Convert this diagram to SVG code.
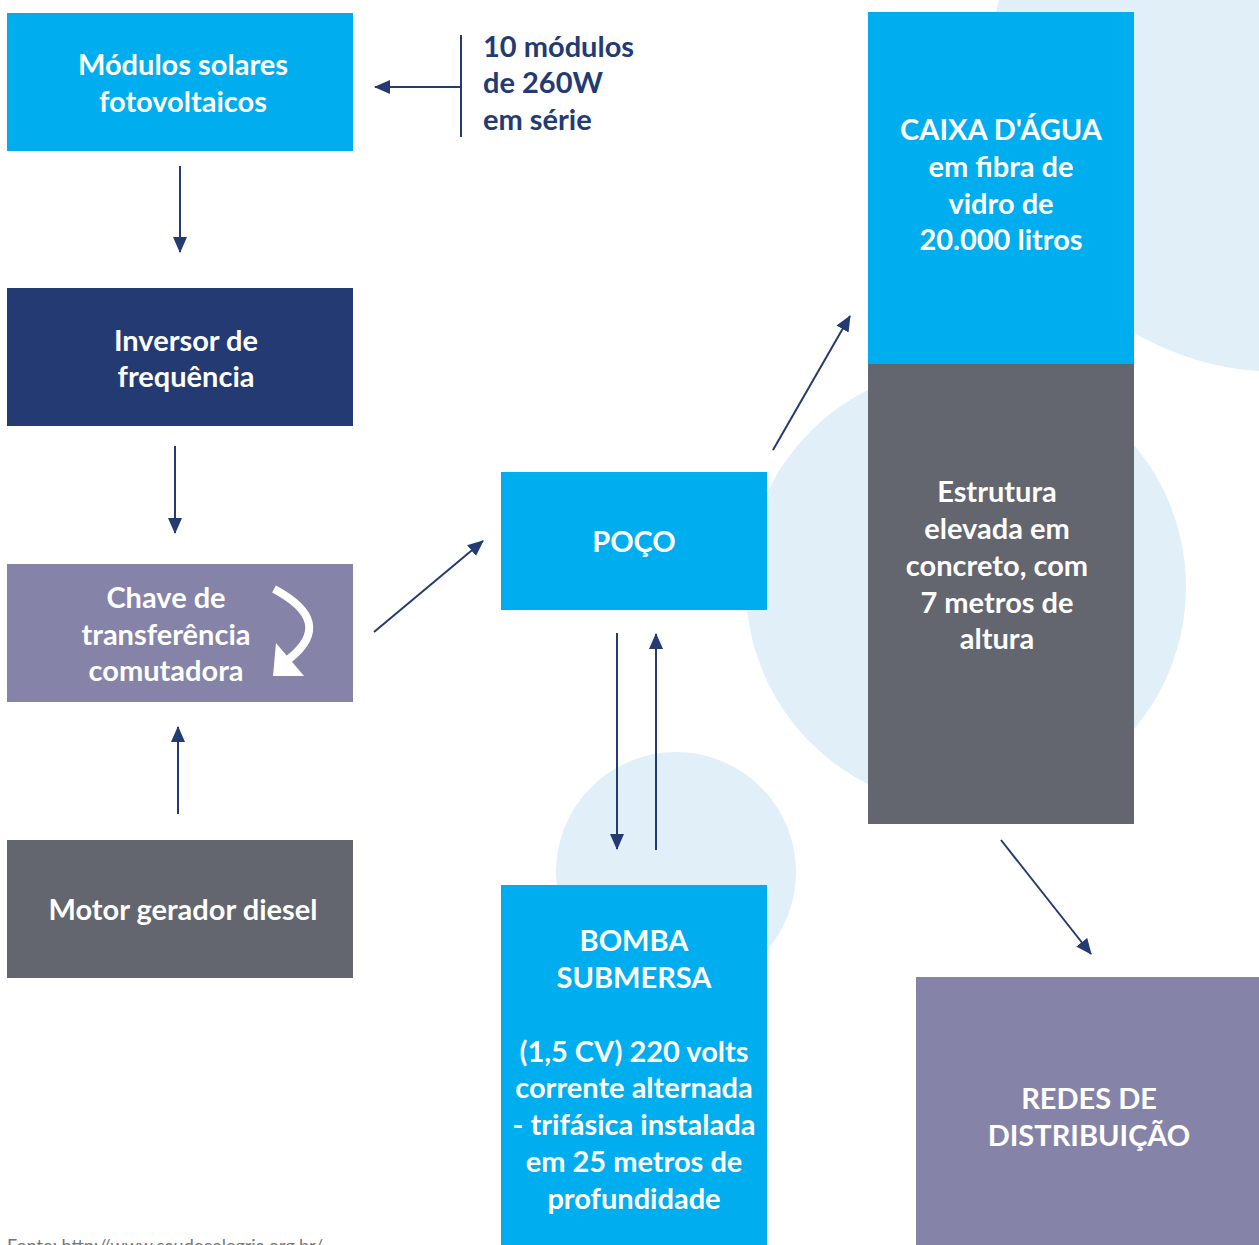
<svg xmlns="http://www.w3.org/2000/svg" width="1259" height="1245" viewBox="0 0 1259 1245">
<defs>
<style>
.bg{fill:#E1EFF9}
.cyan{fill:#00AEEF}
.navy{fill:#233A73}
.purple{fill:#8584A8}
.gray{fill:#63656F}
.t{font-family:Lato,"Liberation Sans",sans-serif;font-weight:700;font-size:29px;fill:#FFFFFF;text-anchor:middle}
.ann{font-family:Lato,"Liberation Sans",sans-serif;font-weight:700;font-size:29px;fill:#233A73}
.src{font-family:Lato,"Liberation Sans",sans-serif;font-size:18px;fill:#777777}
.c{stroke:#233A73;stroke-width:2;fill:none}
</style>
<marker id="ah" markerUnits="userSpaceOnUse" markerWidth="16" markerHeight="16" viewBox="0 0 16 16" refX="15" refY="8" orient="auto">
<path d="M0,1 L16,8 L0,15 Z" fill="#233A73"/>
</marker>
</defs>
<rect width="1259" height="1245" fill="#FFFFFF"/>
<g id="background">
<circle class="bg" cx="1280" cy="80" r="292"/>
<circle class="bg" cx="966" cy="587" r="220"/>
<circle class="bg" cx="676" cy="872" r="120"/>
</g>
<g id="connectors">
<line class="c" x1="461" y1="35" x2="461" y2="137"/>
<line class="c" x1="461" y1="87" x2="375" y2="87" marker-end="url(#ah)"/>
<line class="c" x1="180" y1="166" x2="180" y2="252" marker-end="url(#ah)"/>
<line class="c" x1="175" y1="446" x2="175" y2="533" marker-end="url(#ah)"/>
<line class="c" x1="178" y1="814" x2="178" y2="727" marker-end="url(#ah)"/>
<line class="c" x1="374" y1="632" x2="483" y2="541" marker-end="url(#ah)"/>
<line class="c" x1="773" y1="450" x2="850" y2="316" marker-end="url(#ah)"/>
<line class="c" x1="617" y1="633" x2="617" y2="849" marker-end="url(#ah)"/>
<line class="c" x1="656" y1="850" x2="656" y2="634" marker-end="url(#ah)"/>
<line class="c" x1="1001" y1="840" x2="1091" y2="954" marker-end="url(#ah)"/>
</g>
<g id="modulos">
<rect class="cyan" x="7" y="13" width="346" height="138"/>
<text class="t" x="183" y="75">Módulos solares</text>
<text class="t" x="183" y="112">fotovoltaicos</text>
</g>
<g id="anotacao">
<text class="ann" x="483" y="57">10 módulos</text>
<text class="ann" x="483" y="93">de 260W</text>
<text class="ann" x="483" y="130">em série</text>
</g>
<g id="inversor">
<rect class="navy" x="7" y="288" width="346" height="138"/>
<text class="t" x="186" y="351">Inversor de</text>
<text class="t" x="186" y="387">frequência</text>
</g>
<g id="chave">
<rect class="purple" x="7" y="564" width="346" height="138"/>
<text class="t" x="166" y="608">Chave de</text>
<text class="t" x="166" y="645">transferência</text>
<text class="t" x="166" y="681">comutadora</text>
<path d="M274,589 Q336,622 289,659" stroke="#FFFFFF" stroke-width="8" fill="none"/>
<path d="M276,643 L273,676 L304,676 Z" fill="#FFFFFF"/>
</g>
<g id="motor">
<rect class="gray" x="7" y="840" width="346" height="138"/>
<text class="t" x="183" y="920">Motor gerador diesel</text>
</g>
<g id="poco">
<rect class="cyan" x="501" y="472" width="266" height="138"/>
<text class="t" x="634" y="552">POÇO</text>
</g>
<g id="bomba">
<rect class="cyan" x="501" y="885" width="266" height="360"/>
<text class="t" x="634" y="951">BOMBA</text>
<text class="t" x="634" y="988">SUBMERSA</text>
<text class="t" x="634" y="1062">(1,5 CV) 220 volts</text>
<text class="t" x="634" y="1098">corrente alternada</text>
<text class="t" x="634" y="1135">- trifásica instalada</text>
<text class="t" x="634" y="1172">em 25 metros de</text>
<text class="t" x="634" y="1209">profundidade</text>
</g>
<g id="caixa">
<rect class="cyan" x="868" y="12" width="266" height="352"/>
<text class="t" x="1001" y="140">CAIXA D'ÁGUA</text>
<text class="t" x="1001" y="177">em fibra de</text>
<text class="t" x="1001" y="214">vidro de</text>
<text class="t" x="1001" y="250">20.000 litros</text>
</g>
<g id="estrutura">
<rect class="gray" x="868" y="364" width="266" height="460"/>
<text class="t" x="997" y="502">Estrutura</text>
<text class="t" x="997" y="539">elevada em</text>
<text class="t" x="997" y="576">concreto, com</text>
<text class="t" x="997" y="613">7 metros de</text>
<text class="t" x="997" y="649">altura</text>
</g>
<g id="redes">
<rect class="purple" x="916" y="977" width="343" height="268"/>
<text class="t" x="1089" y="1109">REDES DE</text>
<text class="t" x="1089" y="1146">DISTRIBUIÇÃO</text>
</g>
<text class="src" x="7" y="1252">Fonte: http://www.saudeealegria.org.br/</text>
</svg>
